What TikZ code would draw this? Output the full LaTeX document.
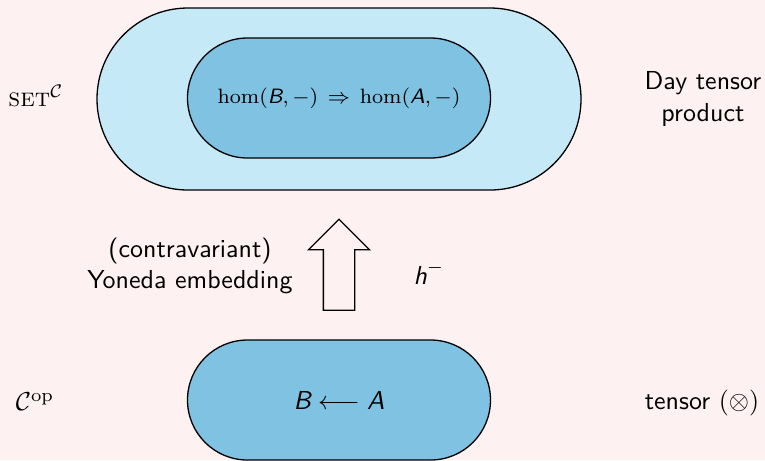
\documentclass[tikz,border=0pt]{standalone}
\usepackage{amsmath}
\usepackage{amssymb}
\usepackage{xcolor}
\usepackage{tikz}
\usetikzlibrary{shapes.misc,shapes.arrows}
\definecolor{slidepink}{HTML}{FEF1F1}
\definecolor{paleblue}{HTML}{C6E9F8}
\definecolor{midblue}{HTML}{80C2E1}
\newcommand{\pxu}{0.385pt}
\newcommand{\sfit}[1]{\text{\sffamily\itshape #1}}

\begin{document}
\begin{tikzpicture}[
    x=0.385pt, y=-0.385pt,
    every node/.style={
        font=\sffamily,
        align=center
    },
    blob/.style={
        rounded rectangle,
        draw=black,
        line width=0.5pt,
        inner sep=0pt
    },
    bigblob/.style={blob, fill=paleblue, minimum width={484*\pxu}, minimum height={182*\pxu}},
    smallblob/.style={blob, fill=midblue, minimum width={303*\pxu}, minimum height={120*\pxu}},
    blockarrow/.style={
        single arrow,
        draw=black,
        line width=0.5pt,
        inner xsep={15*\pxu},
        inner ysep=0pt,
        shape border rotate=90,
        minimum height={91*\pxu},
        single arrow head extend={15*\pxu}
    }
]
\useasboundingbox[fill=slidepink] (0,0) rectangle (765,460);

% functor category on top
\node[bigblob] (setc) at (339,99) {};
\node[smallblob] (homs) at (339,98) {\footnotesize$\hom(\sfit{B},-)\,\Rightarrow\,\hom(\sfit{A},-)$};

% base category below
\node[smallblob] (cop) at (339,400) {$\sfit{B}\longleftarrow\sfit{A}$};

% embedding
\node[blockarrow] (emb) at (339,272.5) {};

% labels
\node (setlbl) at (36,96) {$\text{\rmfamily\scshape set}^{\mathcal{C}}$};
\node (coplbl) at (35,402) {$\mathcal{C}^{\mathrm{op}}$};
\node (daylbl) at (703,99) {Day tensor\\product};
\node (tenlbl) at (702,403) {tensor $(\otimes)$};
\node (yonlbl) at (190,266) {(contravariant)\\Yoneda embedding};
\node (hlbl) at (429,273) {$\sfit{h}^{-}$};
\end{tikzpicture}
\end{document}
